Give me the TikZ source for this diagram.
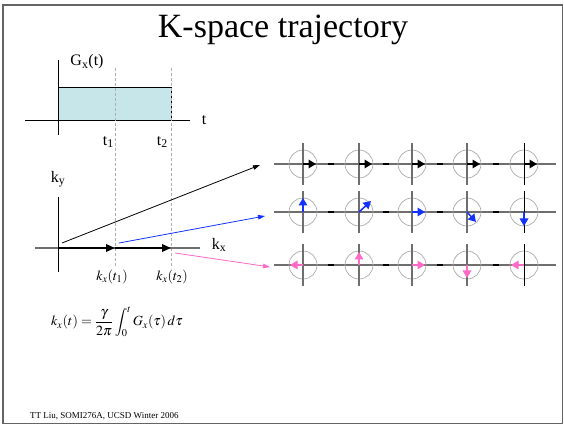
\documentclass[tikz,border=0pt]{standalone}
\usepackage{mathptmx}
\usepackage{fontspec}
\setmainfont{Liberation Serif}
\usetikzlibrary{arrows.meta}
\definecolor{fillcyan}{RGB}{198,230,234}
\definecolor{kblue}{RGB}{20,50,255}
\definecolor{kpink}{RGB}{255,105,200}
\definecolor{framegray}{RGB}{100,100,100}
\definecolor{axgray}{RGB}{110,110,110}
\definecolor{dashgray}{RGB}{175,175,175}
\definecolor{circgray}{RGB}{170,170,170}
\tikzset{
  lbl/.style={inner sep=0pt, font=\fontsize{16}{18}\selectfont},
  mlbl/.style={inner sep=0pt, font=\fontsize{14}{16}\selectfont},
  guide/.style={dashgray, dashed, line width=0.7pt, dash pattern=on 3pt off 2pt},
  bigtip/.style={-{Triangle[length=9pt,width=7.5pt]}},
  thintip/.style={-{Triangle[length=7pt,width=4.5pt]}},
  gridtip/.style={line width=1.5pt,-{Triangle[length=7.5pt,width=8.5pt]}},
  gridline/.style={axgray, line width=1.5pt},
  ring/.style={circgray, line width=0.7pt},
  tick/.style={black, line width=2pt}
}
\begin{document}
\begin{tikzpicture}[x=1pt,y=-1pt]
\useasboundingbox (0,0) rectangle (564,427);
% frame
\draw[framegray, line width=1.5pt] (3,5) rectangle (562.5,423.5);
% title
\node[inner sep=0pt, font=\fontsize{34}{38}\selectfont] (title) at (283,30) {K-space trajectory};

% Gx(t) plot
\coordinate (gxo) at (58,121);
\coordinate (gxl) at (25,121);
\coordinate (gxr) at (190,121);
\coordinate (gyt) at (58,60);
\coordinate (gyb) at (58,135);
\draw[fill=fillcyan, line width=1pt] (58,88) rectangle (171,121);
\draw[line width=1pt] (gxl) -- (gxr);
\draw[line width=1pt] (gyt) -- (gyb);
\coordinate (d1t) at (115,68);
\coordinate (d1b) at (115,268);
\coordinate (d2t) at (171,68);
\coordinate (d2b) at (171,268);
\draw[guide] (d1t) -- (d1b);
\draw[guide] (d2t) -- (d2b);
\node[lbl] (gxlab) at (87,62) {G\textsubscript{x}(t)};
\node[lbl] (tlab) at (204,120) {t};
\node[lbl, anchor=east] (t1lab) at (114,142) {t\textsubscript{1}};
\node[lbl, anchor=east] (t2lab) at (168,142) {t\textsubscript{2}};

% k-space axes
\coordinate (kxl) at (35,248);
\coordinate (kxr) at (200,248);
\coordinate (kyt) at (58,197);
\coordinate (kyb) at (58,272);
\coordinate (ko) at (58,248);
\coordinate (k1) at (115,248);
\coordinate (k2) at (171,248);
\draw[axgray, line width=1.5pt] (kxl) -- (kxr);
\draw[black, line width=1pt] (kyt) -- (kyb);
\draw[line width=1.8pt, bigtip] (ko) -- (k1);
\draw[line width=1.8pt, bigtip] (k1) -- (k2);
\node[lbl] (kylab) at (58,179) {k\textsubscript{y}};
\node[lbl] (kxlab) at (219,245) {k\textsubscript{x}};
\node[mlbl] (kt1) at (112,277) {$k_x(t_1)$};
\node[mlbl] (kt2) at (172,277) {$k_x(t_2)$};
\node[mlbl] (formula) at (117,322) {$\displaystyle k_x(t)=\frac{\gamma}{2\pi}\int_0^t G_x(\tau)\,d\tau$};

% connectors to right panel
\coordinate (a0) at (62,243);
\coordinate (a1) at (260,165);
\coordinate (b0) at (119,243);
\coordinate (b1) at (265,216);
\coordinate (c0) at (175,253);
\coordinate (c1) at (270,267);
\draw[black, line width=0.8pt, thintip] (a0) -- (a1);
\draw[kblue, line width=0.8pt, thintip] (b0) -- (b1);
\draw[kpink, line width=0.8pt, thintip] (c0) -- (c1);

% right grid
\foreach \r/\y in {1/164, 2/212, 3/265} {
  \coordinate (L\r) at (274,\y);
  \coordinate (R\r) at (556,\y);
  \draw[gridline] (L\r) -- (R\r);
  \foreach \c/\x in {1/303, 2/359, 3/412, 4/467, 5/524} {
    \coordinate (P\r\c) at (\x,\y);
    \coordinate (T\r\c) at (\x,\y-21);
    \coordinate (B\r\c) at (\x,\y+21);
    \draw[ring] (P\r\c) circle (14);
  }
  \foreach \c in {1,2,3,4} {
    \draw[gridline] (T\r\c) -- (B\r\c);
  }
  \draw[black, line width=1pt] (T\r5) -- (B\r5);
  \foreach \m [count=\i] in {331, 385.5, 439.5, 495.5} {
    \coordinate (ma\r\i) at (\m-3,\y);
    \coordinate (mb\r\i) at (\m+3,\y);
    \draw[tick] (ma\r\i) -- (mb\r\i);
  }
}
% black row arrows
\foreach \c/\x in {1/303, 2/359, 3/412, 4/467, 5/524} {
  \coordinate (E1\c) at (\x+13,164);
  \draw[black, gridtip] (P1\c) -- (E1\c);
}
% blue row arrows
\coordinate (E21) at (303,198);
\coordinate (E22) at (371,201);
\coordinate (E23) at (425,212);
\coordinate (E24) at (476,222);
\coordinate (E25) at (524,226);
\foreach \c in {1,...,5} { \draw[kblue, gridtip] (P2\c) -- (E2\c); }
% pink row arrows
\coordinate (E31) at (290,265);
\coordinate (E32) at (359,252);
\coordinate (E33) at (425,265);
\coordinate (E34) at (467,278);
\coordinate (E35) at (511,265);
\foreach \c in {1,...,5} { \draw[kpink, gridtip] (P3\c) -- (E3\c); }

% footer
\node[inner sep=0pt, anchor=west, font=\fontsize{9}{11}\selectfont] (footer) at (30,416) {TT Liu, SOMI276A, UCSD Winter 2006};
\end{tikzpicture}
\end{document}
